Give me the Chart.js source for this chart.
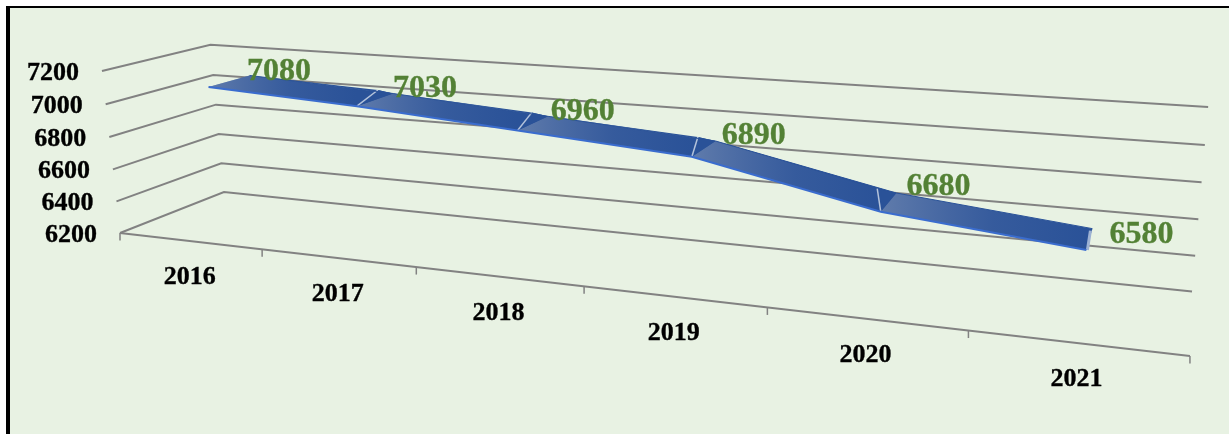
<!DOCTYPE html>
<html>
<head>
<meta charset="utf-8">
<script src="https://cdn.jsdelivr.net/npm/chart.js@4"></script>
<style>
  html, body { margin: 0; padding: 0; background: #fff; width: 1229px; height: 434px; overflow: hidden; }
  #frame { position: absolute; left: 6px; top: 6px; width: 1223px; height: 428px; box-sizing: border-box;
           border-left: 4px solid #000; border-top: 2px solid #000; background: #e8f2e3; }
  #trendChart { position: absolute; left: 0; top: 0; }
</style>
</head>
<body>
<div id="frame"></div>
<canvas id="trendChart" width="1229" height="434"></canvas>
<script>
const categories = ["2016", "2017", "2018", "2019", "2020", "2021"];
const seriesValues = [7080, 7030, 6960, 6890, 6680, 6580];
const yTicks = [6200, 6400, 6600, 6800, 7000, 7200];

// perspective used by the old 3D chart: u along years, v up the values, w into the page
const cam = {
  ox: 120, oy: 233,
  ux: 791.5, uy: 39.7,
  vx: -21, vy: -164,
  wx: 127.6, wy: -20.7,
  a: -0.234, b: -0.029, c: 0.1057,
  sag: 2.2 // far right corner sits a little lower than a pure projection gives
};

function project(u, v, w) {
  const d = 1 + cam.a * u + cam.b * v + cam.c * w;
  return {
    x: (cam.ox + cam.ux * u + cam.vx * v + cam.wx * w) / d,
    y: (cam.oy + cam.uy * u + cam.vy * v + cam.wy * w + cam.sag * u * w) / d
  };
}

const FRONT = 0.3, BACK = 0.7;

// how far each value label's baseline sits above the middle of the ribbon
const labelRise = [1, 3, 3, 5, 7.5, -3.5];

function uOf(chart, px) {
  return (px - chart.chartArea.left) / chart.chartArea.width;
}
function vOf(chart, py) {
  return (chart.chartArea.bottom - py) / chart.chartArea.height;
}

function line(ctx, a, b) {
  ctx.beginPath();
  ctx.moveTo(a.x, a.y);
  ctx.lineTo(b.x, b.y);
  ctx.stroke();
}

function poly(ctx, pts) {
  ctx.beginPath();
  pts.forEach((p, i) => i ? ctx.lineTo(p.x, p.y) : ctx.moveTo(p.x, p.y));
  ctx.closePath();
}

const perspective = {
  id: "perspective",

  // move the line elements from flat scale space into the 3D view
  afterDatasetsUpdate(chart) {
    chart.data.datasets.forEach((ds, i) => {
      chart.getDatasetMeta(i).data.forEach(el => {
        const p = project(uOf(chart, el.x), vOf(chart, el.y), ds.depth);
        el.x = p.x;
        el.y = p.y;
      });
    });
  },

  beforeDatasetsDraw(chart) {
    const ctx = chart.ctx, xs = chart.scales.x, ys = chart.scales.y;
    ctx.save();

    // walls
    ctx.strokeStyle = "#828282";
    ctx.lineWidth = 2;
    ctx.lineJoin = "miter";
    yTicks.forEach(t => {
      const v = vOf(chart, ys.getPixelForValue(t));
      const a = project(0, v, 0), b = project(0, v, 1), c = project(1, v, 1);
      ctx.beginPath();
      ctx.moveTo(a.x, a.y);
      ctx.lineTo(b.x, b.y);
      ctx.lineTo(c.x, c.y);
      ctx.stroke();
    });

    // floor edge and its tick marks
    line(ctx, project(0, 0, 0), project(1, 0, 0));
    ctx.lineWidth = 1.5;
    for (let k = 0; k <= categories.length; k++) {
      const p = project(uOf(chart, xs.getPixelForValue(k - 0.5)), 0, 0);
      line(ctx, p, { x: p.x, y: p.y + 7.5 });
    }

    // tick labels
    ctx.fillStyle = "#000";
    ctx.strokeStyle = "#000";
    ctx.lineWidth = 0.35;
    ctx.font = "bold 26px 'Liberation Serif'";
    ctx.textBaseline = "alphabetic";
    ctx.textAlign = "right";
    yTicks.forEach(t => {
      const p = project(0, vOf(chart, ys.getPixelForValue(t)), 0);
      ctx.fillText(String(t), p.x - 23, p.y + 9);
      ctx.strokeText(String(t), p.x - 23, p.y + 9);
    });
    ctx.textAlign = "center";
    categories.forEach((c, i) => {
      const p = project(uOf(chart, xs.getPixelForValue(i)), 0, 0);
      ctx.fillText(c, p.x, p.y + 43);
      ctx.strokeText(c, p.x, p.y + 43);
    });

    // ribbon body, taken from the two edge datasets
    const front = chart.getDatasetMeta(0).data;
    const back = chart.getDatasetMeta(1).data;
    const last = front.length - 1;
    const lean = i => project(
      uOf(chart, xs.getPixelForValue(i)) - 0.017,
      vOf(chart, ys.getPixelForValue(seriesValues[i])) + 0.015,
      BACK
    );

    ctx.fillStyle = "#2a5298";
    poly(ctx, front.concat(back.slice().reverse()));
    ctx.fill();

    // lighter sheen at the start of each run
    for (let i = 0; i < last; i++) {
      const g = ctx.createLinearGradient(front[i].x, back[i].y, front[i + 1].x, back[i].y);
      g.addColorStop(0, "rgba(150,165,190,0.5)");
      g.addColorStop(0.55, "rgba(125,145,185,0.14)");
      g.addColorStop(1, "rgba(120,140,185,0)");
      ctx.fillStyle = g;
      poly(ctx, [front[i], back[i], back[i + 1], front[i + 1]]);
      ctx.fill();
    }

    // folds between the runs
    for (let i = 1; i < last; i++) {
      const s = lean(i);
      ctx.fillStyle = "#2a5298";
      poly(ctx, [front[i], s, back[i]]);
      ctx.fill();
      poly(ctx, [back[i - 1], s, back[i]]);
      ctx.fill();
      ctx.strokeStyle = "rgba(205,215,230,0.85)";
      ctx.lineWidth = 1.5;
      line(ctx, front[i], s);
    }

    // end cap
    ctx.strokeStyle = "#9db2d3";
    ctx.lineWidth = 3;
    line(ctx, { x: front[last].x + 1, y: front[last].y }, { x: back[last].x - 2, y: back[last].y + 2 });

    ctx.restore();
  },

  afterDatasetsDraw(chart) {
    const ctx = chart.ctx;
    const front = chart.getDatasetMeta(0).data;
    const back = chart.getDatasetMeta(1).data;
    ctx.save();
    ctx.fillStyle = "#538135";
    ctx.strokeStyle = "#538135";
    ctx.lineWidth = 0.35;
    ctx.font = "bold 32px 'Liberation Serif'";
    ctx.textAlign = "center";
    ctx.textBaseline = "alphabetic";
    seriesValues.forEach((val, i) => {
      const mx = (front[i].x + back[i].x) / 2, my = (front[i].y + back[i].y) / 2;
      const dx = i === seriesValues.length - 1 ? 52 : 50;
      ctx.fillText(String(val), mx + dx, my - labelRise[i]);
      ctx.strokeText(String(val), mx + dx, my - labelRise[i]);
    });
    ctx.restore();
  }
};

new Chart(document.getElementById("trendChart"), {
  type: "line",
  data: {
    labels: categories,
    datasets: [
      { label: "front", data: seriesValues, depth: FRONT, borderColor: "#3a6cce", borderWidth: 2, pointRadius: 0, fill: false, clip: false },
      { label: "back", data: seriesValues, depth: BACK, borderColor: "#2a5298", borderWidth: 1, pointRadius: 0, fill: false, clip: false }
    ]
  },
  options: {
    responsive: false,
    animation: false,
    events: [],
    layout: { padding: 0 },
    plugins: { legend: { display: false }, tooltip: { enabled: false } },
    scales: {
      x: { type: "category", offset: true, display: false },
      y: { type: "linear", min: 6200, max: 7200, display: false }
    }
  },
  plugins: [perspective]
});
</script>
</body>
</html>
